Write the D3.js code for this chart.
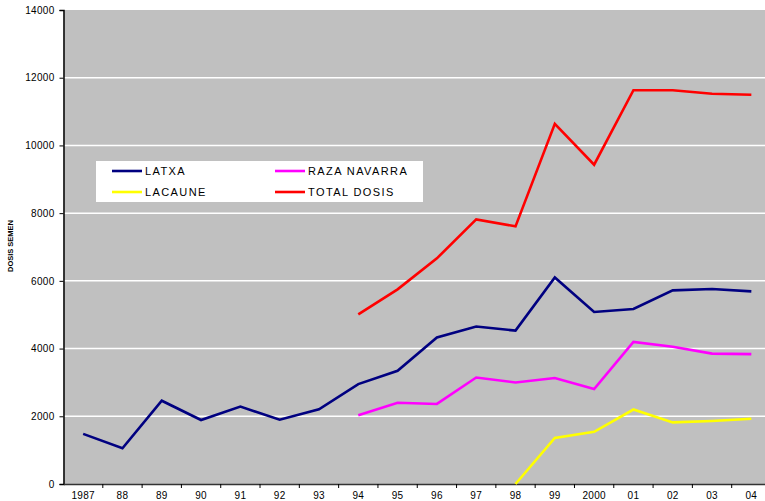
<!DOCTYPE html>
<html>
<head>
<meta charset="utf-8">
<script src="https://cdn.jsdelivr.net/npm/d3@7"></script>
<style>
  body { margin: 0; background: #fff; }
  svg { display: block; font-family: "Liberation Sans", Arial, sans-serif; }
</style>
</head>
<body>
<div id="chart"></div>
<script>
// Categories and series values
const years = ["1987","88","89","90","91","92","93","94","95","96","97","98","99","2000","01","02","03","04"];
const latxa = [1480,1055,2460,1890,2285,1900,2205,2950,3345,4330,4650,4530,6100,5080,5170,5720,5760,5690];
const razaNavarra = [null,null,null,null,null,null,null,2030,2400,2365,3145,3000,3130,2805,4195,4055,3850,3835];
const lacaune = [null,null,null,null,null,null,null,null,null,null,null,0,1360,1540,2200,1820,1860,1925];
const totalDosis = [null,null,null,null,null,null,null,5010,5750,6665,7815,7610,10640,9430,11630,11630,11525,11495];
const yTicks = [0,2000,4000,6000,8000,10000,12000,14000];

const series = [
  {name: "LATXA", values: latxa, color: "#000080"},
  {name: "RAZA NAVARRA", values: razaNavarra, color: "#ff00ff"},
  {name: "LACAUNE", values: lacaune, color: "#ffff00"},
  {name: "TOTAL DOSIS", values: totalDosis, color: "#ff0000"}
];

const W = 765, H = 501;
const plot = {left: 63.5, right: 771, top: 10, bottom: 484};

const svg = d3.select("#chart").append("svg")
    .attr("width", W)
    .attr("height", H);

const x = d3.scaleBand()
    .domain(years)
    .range([plot.left, plot.right])
    .padding(0);

const y = d3.scaleLinear()
    .domain([0, 14000])
    .range([plot.bottom, plot.top]);

// Plot background
svg.append("rect")
    .attr("x", plot.left)
    .attr("y", plot.top)
    .attr("width", plot.right - plot.left)
    .attr("height", plot.bottom - plot.top)
    .attr("fill", "#c0c0c0");

// Gridlines
svg.append("g")
    .selectAll("line")
    .data(yTicks.filter(d => d > 0 && d < 14000))
    .join("line")
    .attr("x1", plot.left)
    .attr("x2", plot.right)
    .attr("y1", d => y(d))
    .attr("y2", d => y(d))
    .attr("stroke", "#ffffff")
    .attr("stroke-width", 1.5);

// Y axis
const yAxis = svg.append("g")
    .attr("transform", `translate(${plot.left},0)`)
    .call(d3.axisLeft(y).tickValues(yTicks).tickFormat(d3.format("d")).tickSize(4).tickPadding(5));
yAxis.select(".domain").attr("stroke", "#000").attr("stroke-width", 1.5);
yAxis.selectAll(".tick line").attr("stroke", "#000");
yAxis.selectAll("text").attr("font-size", 10).attr("fill", "#000")
    .attr("letter-spacing", 0.3).attr("font-family", "Liberation Sans, Arial, sans-serif");

// X axis
const xAxis = svg.append("g")
    .attr("transform", `translate(0,${plot.bottom})`)
    .call(d3.axisBottom(x).tickSize(0).tickPadding(8));
xAxis.select(".domain").attr("stroke", "#333").attr("stroke-width", 1.5);
xAxis.selectAll("text").attr("font-size", 10).attr("fill", "#000")
    .attr("letter-spacing", 0.3).attr("font-family", "Liberation Sans, Arial, sans-serif");

// Tick marks between categories
svg.append("g")
    .selectAll("line")
    .data(years.slice(1))
    .join("line")
    .attr("x1", d => x(d))
    .attr("x2", d => x(d))
    .attr("y1", plot.bottom)
    .attr("y2", plot.bottom + 4)
    .attr("stroke", "#000");

// Y axis title
svg.append("text")
    .attr("transform", "translate(13,246) rotate(-90)")
    .attr("text-anchor", "middle")
    .attr("font-size", 8)
    .attr("font-weight", "bold")
    .attr("textLength", 52)
    .attr("lengthAdjust", "spacingAndGlyphs")
    .text("DOSIS SEMEN");

// Lines
const line = d3.line()
    .defined(d => d.v !== null)
    .x(d => x(d.year) + x.bandwidth() / 2)
    .y(d => y(d.v));

svg.append("g")
    .selectAll("path")
    .data(series)
    .join("path")
    .attr("d", s => line(s.values.map((v, i) => ({year: years[i], v: v}))))
    .attr("fill", "none")
    .attr("stroke", s => s.color)
    .attr("stroke-width", 2.6)
    .attr("stroke-linejoin", "miter");

// Legend
const legend = svg.append("g");
legend.append("rect")
    .attr("x", 96)
    .attr("y", 161)
    .attr("width", 327)
    .attr("height", 41)
    .attr("fill", "#ffffff");

const legendPos = [
  {x: 112, y: 171},
  {x: 275, y: 171},
  {x: 112, y: 192},
  {x: 275, y: 192}
];

const items = legend.selectAll("g")
    .data(series)
    .join("g")
    .attr("transform", (d, i) => `translate(${legendPos[i].x},${legendPos[i].y})`);
items.append("line")
    .attr("x1", 0).attr("x2", 30)
    .attr("stroke", d => d.color)
    .attr("stroke-width", 2.6);
items.append("text")
    .attr("x", 33)
    .attr("y", 4)
    .attr("font-size", 11)
    .attr("letter-spacing", 1.4)
    .attr("fill", "#000")
    .text(d => d.name);
</script>
</body>
</html>
